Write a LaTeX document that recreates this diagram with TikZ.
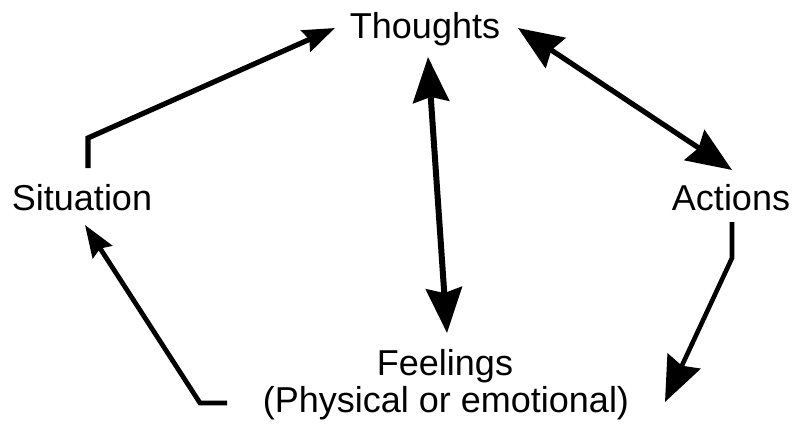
\documentclass[tikz,border=0pt]{standalone}
\usepackage{fontspec}
\setmainfont{Liberation Sans}
\usetikzlibrary{arrows.meta}
\begin{document}
\begin{tikzpicture}[x=1pt,y=-1pt,
  lbl/.style={anchor=base,inner sep=0pt,font=\fontsize{36}{37}\selectfont},
  conn/.style={line width=5.2pt,line join=miter},
  bighead/.style={-{Stealth[length=45pt,width=36pt,inset=5pt]}},
  bigboth/.style={{Stealth[length=45pt,width=36pt,inset=5pt]}-{Stealth[length=45pt,width=36pt,inset=5pt]}},
  smallhead/.style={-{Stealth[length=32pt,width=23pt,inset=4pt]}}]
\useasboundingbox (0,0) rectangle (794,423);
\fill[white] (0,0) rectangle (794,423);
% texts
\node[lbl] (th) at (425,38) {Thoughts};
\node[lbl] (si) at (82,210) {Situation};
\node[lbl] (ac) at (731,210) {Actions};
\node[lbl] (fe) at (445,375) {Feelings};
\node[lbl] (fe2) at (446,412) {(Physical or emotional)};
% connector ends
\coordinate (si-top) at (88,168);
\coordinate (si-bend) at (88,138);
\coordinate (th-left) at (335,28);
\coordinate (th-right) at (518,28);
\coordinate (ac-top) at (732,170);
\coordinate (th-bot) at (428,57);
\coordinate (fe-top) at (447,333);
\coordinate (ac-bot) at (732,222);
\coordinate (ac-bend) at (732,258);
\coordinate (fe-right) at (665,402);
\coordinate (fe-left) at (227,403);
\coordinate (fe-bend) at (200,403);
\coordinate (si-bot) at (85,225);
% connectors
\draw[conn,smallhead] (si-top) -- (si-bend) -- (th-left);
\draw[conn,bigboth] (th-right) -- (ac-top);
\draw[conn,line width=6pt,bigboth] (th-bot) -- (fe-top);
\draw[conn,line width=4.6pt,bighead] (ac-bot) -- (ac-bend) -- (fe-right);
\draw[conn,line width=4.8pt,smallhead] (fe-left) -- (fe-bend) -- (si-bot);
\end{tikzpicture}
\end{document}
